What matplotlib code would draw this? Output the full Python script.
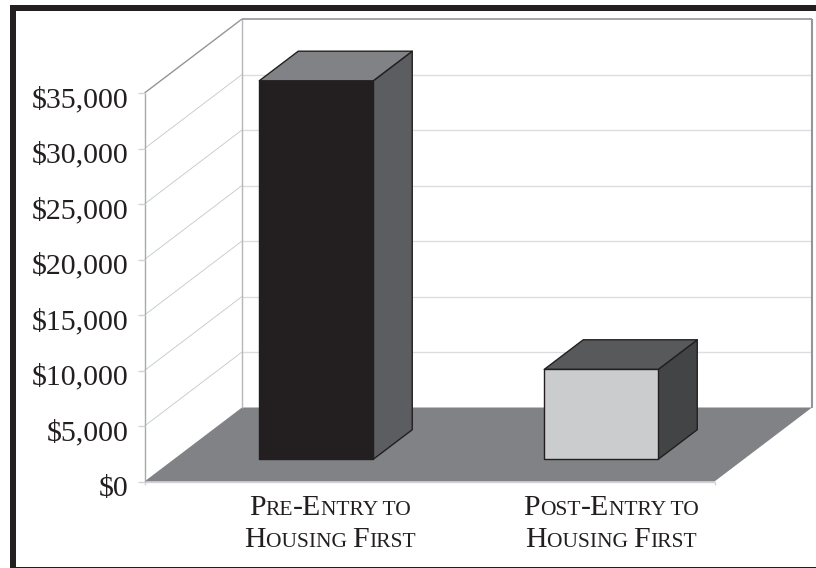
import matplotlib
matplotlib.use('Agg')
import matplotlib.pyplot as plt
from matplotlib.patches import Polygon, Rectangle
from matplotlib.transforms import ScaledTranslation

plt.rcParams['font.family'] = ['Liberation Serif', 'DejaVu Serif']

# Data
categories = [('Pre-Entry to', 'Housing First'), ('Post-Entry to', 'Housing First')]
values = [34100, 8100]
y_ticks = [0, 5000, 10000, 15000, 20000, 25000, 30000, 35000]
y_labels = ['$0', '$5,000', '$10,000', '$15,000', '$20,000', '$25,000', '$30,000', '$35,000']

W, H = 816, 568
ink = '#231f20'
front_colors = ['#231f20', '#cbcccd']
top_colors = ['#808285', '#58595b']
side_colors = ['#5c5d60', '#434446']

fig = plt.figure(figsize=(W / 100, H / 100), dpi=100, facecolor='white')


def frame(x, y, w, h):
    fig.add_artist(Rectangle((x / W, 1 - (y + h) / H), w / W, h / H, transform=fig.transFigure,
                             facecolor=ink, edgecolor='none'))


# black border, the right side has none
frame(10, 5, 806, 5.5)
frame(10, 5, 5.5, 563)
frame(10, 566.5, 806, 1.5)

ax = fig.add_axes([144.5 / W, 1 - 481.5 / H, 570 / W, 388.5 / H])
ax.set_xlim(0, 2)
ax.set_ylim(0, 35000)
ax.patch.set_visible(False)
for s in ax.spines.values():
    s.set_visible(False)

# one unit of depth on screen, in data units
DX = 97.5 / 285
DY = 74 / 55.5 * 5000


def proj(x, v, d):
    return x + d * DX, v + d * DY


def face(points, **kw):
    ax.add_patch(Polygon([proj(*p) for p in points], closed=True, clip_on=False, **kw))


def line3(a, b, **kw):
    pa, pb = proj(*a), proj(*b)
    ax.plot([pa[0], pb[0]], [pa[1], pb[1]], clip_on=False, solid_capstyle='butt', **kw)


top = y_ticks[-1]

# floor
face([(0, 0, 0), (0, 0, 1), (2, 0, 1), (2, 0, 0)], facecolor='#808285', edgecolor='none', zorder=1)
line3((0, 0, 0), (2, 0, 0), color='#d1d3d4', lw=1, zorder=1.5)

# grid on back and side walls
for v in y_ticks[1:-1]:
    line3((0, v, 0), (0, v, 1), color='#c4c6c8', lw=0.6, zorder=1)
    line3((0, v, 1), (2, v, 1), color='#dcddde', lw=1, zorder=1)

# wall outline
line3((0, 0, 0), (0, top, 0), color='#a7a9ac', lw=1, zorder=1.5)
line3((0, top, 0), (0, top, 1), color='#939598', lw=1, zorder=1.5)
line3((0, 0, 1), (0, top, 1), color='#b5b7b9', lw=1, zorder=1.5)
line3((0, top, 1), (2, top, 1), color='#939598', lw=1.2, zorder=1.5)
line3((2, 0, 1), (2, top, 1), color='#939598', lw=1.5, zorder=1.5)

# bars
bar_width = 0.4
d0, d1 = 0.3, 0.7
for i, val in enumerate(values):
    x0 = i + 0.5 - bar_width / 2
    x1 = x0 + bar_width
    style = dict(edgecolor=ink, lw=1, joinstyle='round', zorder=3)
    face([(x1, 0, d0), (x1, 0, d1), (x1, val, d1), (x1, val, d0)], facecolor=side_colors[i], **style)
    face([(x0, val, d0), (x0, val, d1), (x1, val, d1), (x1, val, d0)], facecolor=top_colors[i], **style)
    face([(x0, 0, d0), (x1, 0, d0), (x1, val, d0), (x0, val, d0)], facecolor=front_colors[i], **style)

# axis ticks and labels
ax.set_yticks(y_ticks)
ax.set_yticklabels(y_labels, fontsize=21.5, color=ink)
ax.tick_params(axis='y', length=5, width=1, color='#d1d3d4', pad=6.5)
down = ScaledTranslation(0, -4 / 100, fig.dpi_scale_trans)
for lab in ax.get_yticklabels():
    lab.set_transform(lab.get_transform() + down)
ax.set_xticks([0, 2])
ax.set_xticklabels([])
ax.tick_params(axis='x', length=2, width=1, color='#d1d3d4')

renderer = fig.canvas.get_renderer()


def small_caps(text, xc, ypix, big=21.5, small=15.5):
    # split into runs: capitals large, the rest as small capitals
    runs = []
    for ch in text:
        size = big if ch.isupper() or ch == '-' else small
        if runs and runs[-1][1] == size:
            runs[-1][0] += ch.upper()
        else:
            runs.append([ch.upper(), size])
    arts = [fig.text(0, 0, r, fontsize=s, color=ink, va='baseline', ha='left') for r, s in runs]
    widths = []
    for (r, s), t in zip(runs, arts):
        # keep trailing spaces in the measured width
        w = t.get_window_extent(renderer).width
        if r.endswith(' ') or r.startswith(' '):
            probe = fig.text(0, 0, 'x' + r + 'x', fontsize=s)
            p1 = fig.text(0, 0, 'xx', fontsize=s)
            w = probe.get_window_extent(renderer).width - p1.get_window_extent(renderer).width
            probe.remove()
            p1.remove()
        widths.append(w)
    x = xc - sum(widths) / 2
    for t, w in zip(arts, widths):
        t.set_position((x / W, 1 - ypix / H))
        x += w


label_centers = [330, 611]
for (l1, l2), xc in zip(categories, label_centers):
    small_caps(l1, xc, 515)
    small_caps(l2, xc, 547)

fig.savefig('out.png', dpi=100, facecolor='white')
